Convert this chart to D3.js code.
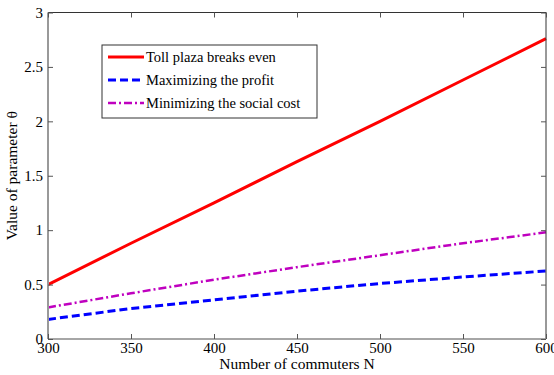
<!DOCTYPE html>
<html>
<head>
<meta charset="utf-8">
<script src="https://cdn.jsdelivr.net/npm/d3@7"></script>
<style>
  body { margin: 0; background: #fff; }
  svg text { font-family: "Liberation Serif", "DejaVu Serif", serif; }
</style>
</head>
<body>
<div id="chart"></div>
<script>
// Data
const commuters = [300, 350, 400, 450, 500, 550, 600];
const breakEven = [0.50, 0.88, 1.25, 1.63, 2.00, 2.38, 2.76];
const maxProfit = [0.18, 0.28, 0.36, 0.44, 0.51, 0.57, 0.625];
const minSocial = [0.29, 0.42, 0.545, 0.66, 0.77, 0.88, 0.98];
const xTicks = [300, 350, 400, 450, 500, 550, 600];
const yTicks = [0, 0.5, 1, 1.5, 2, 2.5, 3];

const series = [
  { name: "Toll plaza breaks even", values: breakEven, color: "#ff0000", width: 3, dash: null },
  { name: "Maximizing the profit", values: maxProfit, color: "#0000ff", width: 3, dash: "8,4" },
  { name: "Minimizing the social cost", values: minSocial, color: "#bf00bf", width: 2.5, dash: "8,3,2,3" }
];

const W = 554, H = 375;
const margin = { top: 12.5, right: 8, bottom: 36, left: 48 };
const width = W - margin.left - margin.right;
const height = H - margin.top - margin.bottom;
const serif = "'Liberation Serif', 'DejaVu Serif', serif";

const x = d3.scaleLinear().domain([300, 600]).range([0, width]);
const y = d3.scaleLinear().domain([0, 3]).range([height, 0]);

const svg = d3.select("#chart").append("svg")
  .attr("width", W).attr("height", H);

const g = svg.append("g")
  .attr("transform", `translate(${margin.left},${margin.top})`);

// Lines
const line = d3.line()
  .x((d, i) => x(commuters[i]))
  .y(d => y(d));

series.forEach(s => {
  g.append("path")
    .datum(s.values)
    .attr("fill", "none")
    .attr("stroke", s.color)
    .attr("stroke-width", s.width)
    .attr("stroke-dasharray", s.dash)
    .attr("d", line);
});

// Frame (top/right dark, left/bottom gray like the picture)
g.append("line").attr("x1", 0).attr("x2", width).attr("y1", 0).attr("y2", 0)
  .attr("stroke", "#333").attr("stroke-width", 1);
g.append("line").attr("x1", width).attr("x2", width).attr("y1", 0).attr("y2", height)
  .attr("stroke", "#333").attr("stroke-width", 1);
g.append("line").attr("x1", 0).attr("x2", width).attr("y1", height).attr("y2", height)
  .attr("stroke", "#888").attr("stroke-width", 1.5);
g.append("line").attr("x1", 0).attr("x2", 0).attr("y1", 0).attr("y2", height)
  .attr("stroke", "#999").attr("stroke-width", 2);

// Axes with inward ticks
const xAxis = g.append("g")
  .attr("transform", `translate(0,${height})`)
  .call(d3.axisBottom(x).tickValues(xTicks).tickSizeInner(-5).tickSizeOuter(0).tickPadding(3));
const yAxis = g.append("g")
  .call(d3.axisLeft(y).tickValues(yTicks).tickFormat(d3.format("")).tickSizeInner(-5).tickSizeOuter(0).tickPadding(5));
const xTop = g.append("g")
  .call(d3.axisTop(x).tickValues(xTicks).tickSizeInner(-5).tickSizeOuter(0).tickFormat(""));
const yRight = g.append("g")
  .attr("transform", `translate(${width},0)`)
  .call(d3.axisRight(y).tickValues(yTicks).tickSizeInner(-5).tickSizeOuter(0).tickFormat(""));

[xAxis, yAxis, xTop, yRight].forEach(a => {
  a.attr("font-family", serif).attr("font-size", 15);
  a.select(".domain").remove();
  a.selectAll(".tick line").attr("stroke", "#555");
  a.selectAll("text").attr("fill", "#000");
});

// Axis labels
svg.append("text")
  .attr("x", margin.left + width / 2)
  .attr("y", 369)
  .attr("text-anchor", "middle")
  .attr("font-family", serif)
  .attr("font-size", 15.5)
  .text("Number of commuters N");

svg.append("text")
  .attr("transform", `translate(17,${margin.top + height / 2}) rotate(-90)`)
  .attr("text-anchor", "middle")
  .attr("font-family", serif)
  .attr("font-size", 15.5)
  .text("Value of parameter \u03B8");

// Legend
const legend = svg.append("g").attr("transform", "translate(102,45)");
legend.append("rect")
  .attr("width", 215).attr("height", 73)
  .attr("fill", "#fff").attr("stroke", "#333").attr("stroke-width", 1);

series.forEach((s, i) => {
  const ly = 12 + i * 23;
  legend.append("line")
    .attr("x1", 6).attr("x2", 42).attr("y1", ly).attr("y2", ly)
    .attr("stroke", s.color)
    .attr("stroke-width", s.width)
    .attr("stroke-dasharray", s.dash);
  legend.append("text")
    .attr("x", 44).attr("y", ly + 5)
    .attr("font-family", serif)
    .attr("font-size", 14.5)
    .text(s.name);
});
</script>
</body>
</html>
